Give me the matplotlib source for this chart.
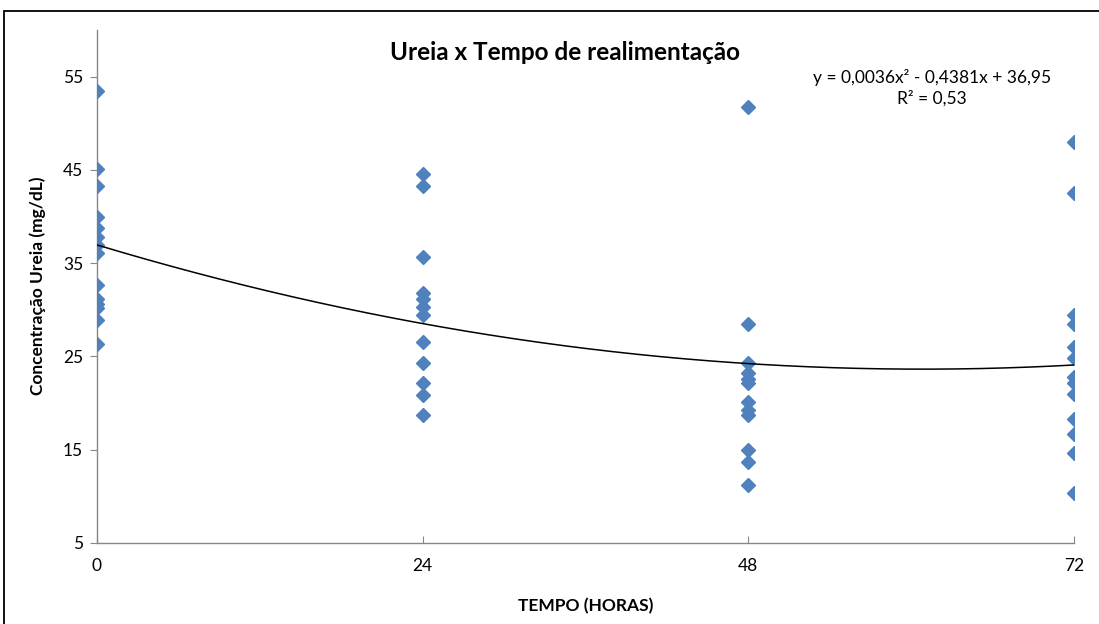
import matplotlib.pyplot as plt
import numpy as np
from matplotlib.patches import Rectangle

# tempos (horas) e concentracao de ureia (mg/dL)
t0 = [53.5, 45.1, 43.3, 40.0, 38.8, 37.8, 36.9, 36.1, 32.6, 31.1, 30.6, 30.2, 28.9, 26.3]
t24 = [44.6, 43.3, 35.7, 31.8, 31.2, 30.3, 29.4, 26.5, 24.3, 22.1, 20.8, 18.7]
t48 = [51.8, 28.5, 24.3, 23.2, 22.6, 22.1, 20.1, 19.2, 18.7, 14.9, 13.7, 11.2]
t72 = [48.0, 42.5, 29.4, 28.5, 26.0, 24.8, 22.8, 22.1, 21.0, 18.3, 16.7, 14.6, 10.3]
tempos = [0, 24, 48, 72]
coef = [0.0036, -0.4381, 36.95]  # linha de tendencia polinomial (Excel)

plt.rcParams['font.family'] = ['Lato', 'DejaVu Sans']

fig = plt.figure(figsize=(10.99, 6.24), dpi=100)
ax = fig.add_axes([97/1099, 1 - 542.7/624, (1074-97)/1099, (542.7-30.1)/624])

azul = '#4F81BD'
for t, vals in zip(tempos, [t0, t24, t48, t72]):
    ax.plot([t]*len(vals), vals, linestyle='none', marker='D', ms=7,
            color=azul, mec=azul, zorder=3)

xx = np.linspace(0, 72, 200)
ax.plot(xx, np.polyval(coef, xx), color='black', lw=1.1, zorder=4)

ax.set_xlim(0, 72)
ax.set_ylim(5, 60)
ax.set_xticks(tempos)
ax.set_yticks([5, 15, 25, 35, 45, 55])
for s in ['top', 'right']:
    ax.spines[s].set_visible(False)
for s in ['left', 'bottom']:
    ax.spines[s].set_color('#868686')
    ax.spines[s].set_linewidth(1.0)
ax.tick_params(axis='y', direction='out', length=5, color='#868686', labelsize=12.5, pad=5)
ax.tick_params(axis='x', direction='in', length=5, color='#868686', labelsize=12.5, pad=11)
ax.spines['left'].set_zorder(1)

ax.set_xlabel('TEMPO (HORAS)', fontsize=12.5, fontweight='bold', labelpad=17)
fig.text(38/1099, 1 - 286/624, 'Concentração Ureia (mg/dL)', rotation=90,
         ha='center', va='center', fontsize=12.5, fontweight='bold')
fig.text(565/1099, 1 - 53/624, 'Ureia x Tempo de realimentação',
         ha='center', va='center', fontsize=17.5, fontweight='bold')
fig.text(932/1099, 1 - 69/624, 'y = 0,0036x² - 0,4381x + 36,95\nR² = 0,53',
         ha='center', va='top', fontsize=12.5, linespacing=1.3)

fig.patches.append(Rectangle((4/1099, -0.05), 1.1, 1 - 11/624 + 0.05,
                             transform=fig.transFigure, fill=False,
                             edgecolor='black', lw=1.3))

fig.savefig('out.png', dpi=100)
